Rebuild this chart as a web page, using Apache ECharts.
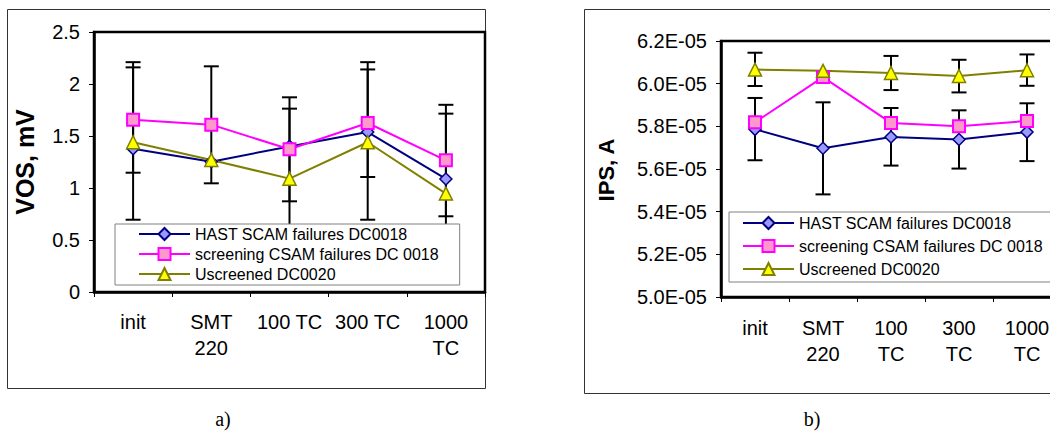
<!DOCTYPE html>
<html><head><meta charset="utf-8">
<script src="https://cdn.jsdelivr.net/npm/echarts@6/dist/echarts.min.js"></script>
<style>html,body{margin:0;padding:0;background:#fff}#c{width:1050px;height:432px}</style>
</head><body><div id="c"></div>
<script>
// ---------- data ----------
const seriesNames = ['HAST SCAM failures DC0018', 'screening CSAM failures DC 0018', 'Uscreened DC0020'];
const labelsA = ['init', 'SMT\n220', '100 TC', '300 TC', '1000\nTC'];
const labelsB = ['init', 'SMT\n220', '100\nTC', '300\nTC', '1000\nTC'];

// a) VOS, mV
const vosHast   = [1.378, 1.253, 1.40, 1.538, 1.087];
const vosScreen = [1.657, 1.609, 1.372, 1.625, 1.266];
const vosUnscr  = [1.44, 1.27, 1.09, 1.44, 0.946];
const vosScreenErrLow  = [1.147, 1.045, 0.872, 1.106, 0.728];
const vosScreenErrHigh = [2.16, 2.17, 1.763, 2.14, 1.715];
const vosUnscrErrLow   = [0.695, null, 0.31, 0.695, 0.10];
const vosUnscrErrHigh  = [2.21, null, 1.872, 2.21, 1.80];

// b) IPS, A
const ipsHast   = [5.786e-5, 5.697e-5, 5.750e-5, 5.738e-5, 5.773e-5];
const ipsScreen = [5.819e-5, 6.031e-5, 5.816e-5, 5.800e-5, 5.825e-5];
const ipsUnscr  = [6.066e-5, 6.060e-5, 6.050e-5, 6.036e-5, 6.063e-5];
const ipsHastErrLow   = [5.641e-5, 5.481e-5, 5.616e-5, 5.602e-5, 5.637e-5];
const ipsHastErrHigh  = [5.933e-5, 5.9125e-5, 5.886e-5, 5.875e-5, 5.908e-5];
const ipsUnscrErrLow  = [5.989e-5, null, 5.970e-5, 5.959e-5, 5.990e-5];
const ipsUnscrErrHigh = [6.145e-5, null, 6.130e-5, 6.112e-5, 6.137e-5];

// ---------- styles ----------
const FONT = 'Liberation Sans, Arial, sans-serif';
const styles = [
  {symbol: 'diamond', size: 12, line: '#000080', fill: '#9999FF', bw: 1.5},
  {symbol: 'rect', size: 12, line: '#FF00FF', fill: '#FF99CC', bw: 2},
  {symbol: 'triangle', size: 13, line: '#808000', fill: '#FFFF00', bw: 1.5}
];

function errData(lo, hi) {
  const out = [];
  lo.forEach((l, i) => { if (l != null && hi[i] != null) out.push([i, l, hi[i]]); });
  return out;
}
function errRender(params, api) {
  const x = api.value(0);
  const pLo = api.coord([x, api.value(1)]);
  const pHi = api.coord([x, api.value(2)]);
  const hw = 7.5;
  const st = {stroke: '#000', lineWidth: 2};
  return {type: 'group', children: [
    {type: 'line', shape: {x1: pLo[0], y1: pLo[1], x2: pHi[0], y2: pHi[1]}, style: st},
    {type: 'line', shape: {x1: pLo[0] - hw, y1: pLo[1], x2: pLo[0] + hw, y2: pLo[1]}, style: st},
    {type: 'line', shape: {x1: pHi[0] - hw, y1: pHi[1], x2: pHi[0] + hw, y2: pHi[1]}, style: st}
  ]};
}
function errSeries(idx, lo, hi) {
  return {type: 'custom', name: 'err' + idx, xAxisIndex: idx, yAxisIndex: idx, z: 1,
    renderItem: errRender, data: errData(lo, hi), encode: {x: 0, y: [1, 2]}, silent: true};
}
function lineSeries(idx, k, values) {
  const s = styles[k];
  return {type: 'line', name: seriesNames[k], xAxisIndex: idx, yAxisIndex: idx, z: 3,
    data: values, symbol: s.symbol, symbolSize: s.size, showSymbol: true,
    lineStyle: {color: s.line, width: 2},
    itemStyle: {color: s.fill, borderColor: s.line, borderWidth: s.bw},
    emphasis: {disabled: true}};
}
const axisX = (idx, labels, margin) => ({
  type: 'category', gridIndex: idx, data: labels, boundaryGap: true,
  axisLine: {show: true, lineStyle: {color: '#000', width: 2.5}},
  axisTick: {show: true, length: 5, lineStyle: {color: '#000', width: 1}},
  axisLabel: {interval: 0, fontFamily: FONT, fontSize: 20, color: '#000', margin: margin, lineHeight: 26}
});
const legendCommon = {
  orient: 'vertical', data: seriesNames, itemWidth: 51, itemHeight: 15,
  backgroundColor: '#fff', borderColor: '#808080', borderWidth: 1, selectedMode: false,
  textStyle: {fontFamily: FONT, fontSize: 16, color: '#000', lineHeight: 16}
};

const chart = echarts.init(document.getElementById('c'), null, {renderer: 'svg'});
chart.setOption({
  animation: false,
  backgroundColor: '#fff',
  grid: [
    {left: 94, top: 32, width: 391, height: 260, show: true, borderColor: '#000', borderWidth: 2.5,
      backgroundColor: 'transparent', containLabel: false, outerBoundsMode: 'none'},
    {left: 721, top: 41, width: 340, height: 256, show: true, borderColor: '#000', borderWidth: 2.5,
      backgroundColor: 'transparent', containLabel: false, outerBoundsMode: 'none'}
  ],
  xAxis: [axisX(0, labelsA, 17), axisX(1, labelsB, 18)],
  yAxis: [
    {type: 'value', gridIndex: 0, min: 0, max: 2.5, interval: 0.5,
      splitLine: {show: false},
      axisLine: {show: true, lineStyle: {color: '#000', width: 2.5}},
      axisTick: {show: true, length: 5, lineStyle: {color: '#000', width: 1}},
      axisLabel: {fontFamily: FONT, fontSize: 20, color: '#000', margin: 14}},
    {type: 'value', gridIndex: 1, min: 5.0e-5, max: 6.2e-5, interval: 2e-6,
      splitLine: {show: false},
      axisLine: {show: true, lineStyle: {color: '#000', width: 2.5}},
      axisTick: {show: true, length: 5, lineStyle: {color: '#000', width: 1}},
      axisLabel: {fontFamily: FONT, fontSize: 20, color: '#000', margin: 14,
        formatter: v => (v * 1e5).toFixed(1) + 'E-05'}}
  ],
  legend: [
    Object.assign({}, legendCommon, {left: 115, top: 224, padding: [2, 21, 3, 23], itemGap: 4}),
    Object.assign({}, legendCommon, {left: 729, top: 212, padding: [3, 20, 5, 13], itemGap: 7})
  ],
  series: [
    errSeries(0, vosScreenErrLow, vosScreenErrHigh),
    errSeries(0, vosUnscrErrLow, vosUnscrErrHigh),
    lineSeries(0, 0, vosHast),
    lineSeries(0, 1, vosScreen),
    lineSeries(0, 2, vosUnscr),
    errSeries(1, ipsHastErrLow, ipsHastErrHigh),
    errSeries(1, ipsUnscrErrLow, ipsUnscrErrHigh),
    lineSeries(1, 0, ipsHast),
    lineSeries(1, 1, ipsScreen),
    lineSeries(1, 2, ipsUnscr)
  ],
  graphic: [
    {type: 'rect', z: -10, shape: {x: 7.5, y: 9.5, width: 478, height: 379}, style: {fill: 'none', stroke: '#333', lineWidth: 1}},
    {type: 'rect', z: -10, shape: {x: 584.5, y: 9.5, width: 500, height: 384}, style: {fill: 'none', stroke: '#333', lineWidth: 1}},
    {type: 'text', x: 25, y: 162, rotation: Math.PI / 2,
      style: {text: 'VOS, mV', font: 'bold 25px Liberation Sans, Arial, sans-serif', fill: '#000', textAlign: 'center', textVerticalAlign: 'middle'}},
    {type: 'text', x: 606, y: 170, rotation: Math.PI / 2,
      style: {text: 'IPS, A', font: 'bold 22px Liberation Sans, Arial, sans-serif', fill: '#000', textAlign: 'center', textVerticalAlign: 'middle'}},
    {type: 'text', x: 223, y: 419,
      style: {text: 'a)', font: '20px Liberation Serif, Times New Roman, serif', fill: '#000', textAlign: 'center', textVerticalAlign: 'middle'}},
    {type: 'text', x: 812, y: 419,
      style: {text: 'b)', font: '20px Liberation Serif, Times New Roman, serif', fill: '#000', textAlign: 'center', textVerticalAlign: 'middle'}}
  ]
});
</script>
</body></html>
